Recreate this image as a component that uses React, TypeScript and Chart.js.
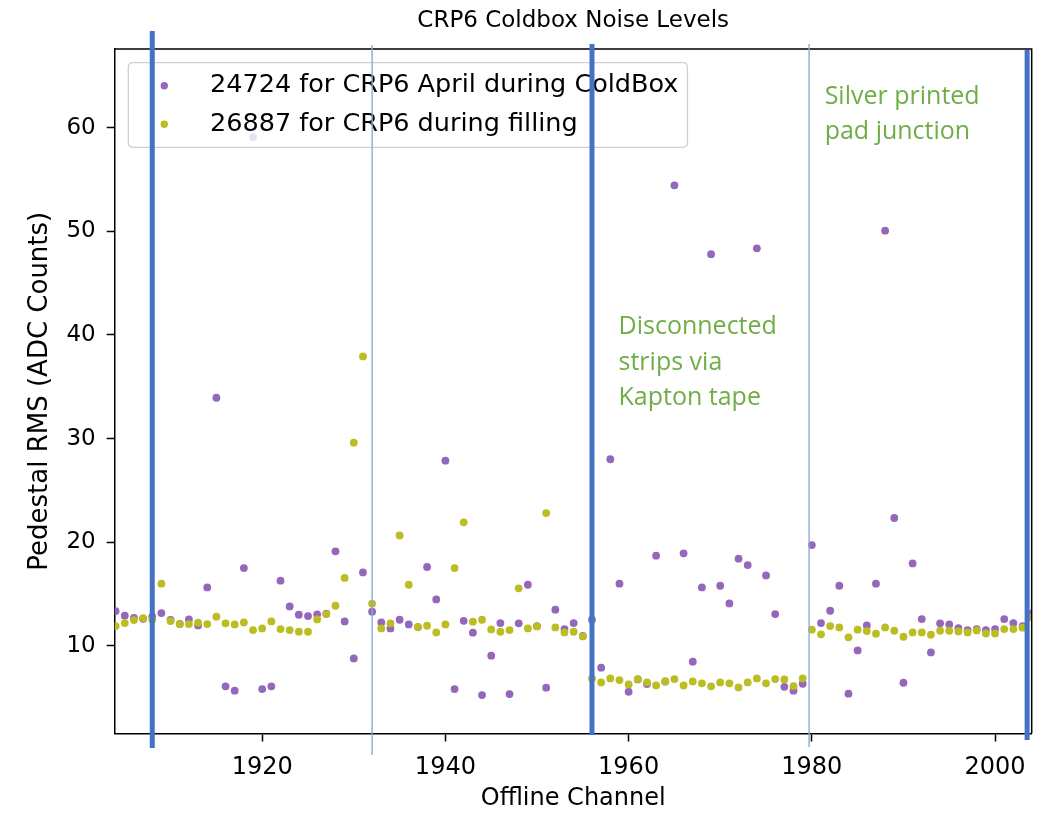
import React, { useEffect, useRef } from 'react';
import { Chart, registerables } from 'chart.js';

Chart.register(...registerables);

// ---------- data ----------
const channels = [
  1904, 1905, 1906, 1907, 1908, 1909, 1910, 1911, 1912, 1913,
  1914, 1915, 1916, 1917, 1918, 1919, 1920, 1921, 1922, 1923,
  1924, 1925, 1926, 1927, 1928, 1929, 1930, 1931, 1932, 1933,
  1934, 1935, 1936, 1937, 1938, 1939, 1940, 1941, 1942, 1943,
  1944, 1945, 1946, 1947, 1948, 1949, 1950, 1951, 1952, 1953,
  1954, 1955, 1956, 1957, 1958, 1959, 1960, 1961, 1962, 1963,
  1964, 1965, 1966, 1967, 1968, 1969, 1970, 1971, 1972, 1973,
  1974, 1975, 1976, 1977, 1978, 1979, 1980, 1981, 1982, 1983,
  1984, 1985, 1986, 1987, 1988, 1989, 1990, 1991, 1992, 1993,
  1994, 1995, 1996, 1997, 1998, 1999, 2000, 2001, 2002, 2003,
  2004,
];

const run24724 = [
  13.35, 12.9, 12.7, 12.6, 12.8, 13.15, 12.5, 12.1, 12.54, 11.96,
  15.63, 33.94, 6.08, 5.66, 17.5, 59.1, 5.82, 6.08, 16.28, 13.8,
  12.99, 12.86, 13.03, 13.1, 19.11, 12.35, 8.78, 17.08, 13.28, 12.25,
  11.67, 12.51, 12.06, 11.8, 17.6, 14.47, 27.86, 5.82, 12.41, 11.26,
  5.24, 9.04, 12.19, 5.34, 12.16, 15.89, 11.9, 5.95, 13.48, 11.61,
  12.19, 10.95, 12.51, 7.88, 28.0, 15.99, 5.56, 6.75, 6.3, 18.69,
  6.55, 54.44, 18.92, 8.46, 15.63, 47.8, 15.79, 14.09, 18.4, 17.79,
  48.36, 16.79, 13.06, 6.04, 5.66, 6.33, 19.72, 12.19, 13.38, 15.79,
  5.37, 9.55, 11.96, 15.99, 50.06, 22.33, 6.43, 17.95, 12.57, 9.36,
  12.16, 12.06, 11.71, 11.51, 11.61, 11.51, 11.61, 12.57, 12.19, 11.9,
  13.12,
];

const run26887 = [
  11.9, 12.19, 12.48, 12.67, 12.51, 15.99, 12.38, 12.09, 12.09, 12.22,
  12.09, 12.8, 12.16, 12.06, 12.25, 11.51, 11.67, 12.35, 11.61, 11.51,
  11.35, 11.35, 12.54, 13.06, 13.86, 16.55, 29.6, 37.93, 14.06, 11.67,
  12.16, 20.65, 15.89, 11.8, 11.93, 11.29, 12.06, 17.5, 21.91, 12.32,
  12.51, 11.58, 11.35, 11.51, 15.54, 11.67, 11.87, 22.81, 11.77, 11.29,
  11.35, 10.9, 6.85, 6.46, 6.85, 6.69, 6.27, 6.78, 6.46, 6.17,
  6.56, 6.78, 6.17, 6.56, 6.37, 6.08, 6.46, 6.37, 5.98, 6.46,
  6.85, 6.37, 6.78, 6.75, 6.11, 6.85, 11.55, 11.1, 11.9, 11.77,
  10.81, 11.55, 11.42, 11.16, 11.77, 11.45, 10.87, 11.29, 11.29, 11.06,
  11.45, 11.45, 11.38, 11.29, 11.48, 11.19, 11.19, 11.61, 11.61, 11.74,
  12.74,
];

const seriesLabels = ['24724 for CRP6 April during ColdBox', '26887 for CRP6 during filling'];
const seriesColors = ['#9467bd', '#bcbd22'];
const chartTitle = 'CRP6 Coldbox Noise Levels';

const xTicks = [1920, 1940, 1960, 1980, 2000];
const yTicks = [10, 20, 30, 40, 50, 60];

// annotation dividers (channel positions)
const dividerChannels = [1908, 1932, 1956, 1979.7, 2003.5];
const dividerHeavy = [true, false, true, false, true];
const dividerTopOffset = [-18, -4, -5, -5, 1];
const dividerBottomOffset = [14.5, 21.5, 1.5, 13.5, 6.5];

const noteKapton = ['Disconnected', 'strips via', 'Kapton tape'];
const noteSilver = ['Silver printed', 'pad junction'];

const FONT = "'DejaVu Sans', sans-serif";

const overlayPlugin = {
  id: 'overlay',
  afterDraw(chart: any) {
    const { ctx, chartArea: ca, scales } = chart;
    const xs = scales.x;
    ctx.save();

    // title, centred over the plot area
    ctx.fillStyle = '#000';
    ctx.font = `23px ${FONT}`;
    ctx.textAlign = 'center';
    ctx.textBaseline = 'middle';
    ctx.fillText(chartTitle, (ca.left + ca.right) / 2, ca.top - 28);

    // top/right spines
    ctx.strokeStyle = '#000';
    ctx.lineWidth = 1.5;
    ctx.beginPath();
    ctx.moveTo(ca.left, ca.top);
    ctx.lineTo(ca.right, ca.top);
    ctx.lineTo(ca.right, ca.bottom);
    ctx.stroke();

    // legend
    const lx = ca.left + 13.6;
    const ly = ca.top + 13.7;
    ctx.font = `25.5px ${FONT}`;
    const tw = Math.max(...seriesLabels.map((s) => ctx.measureText(s).width));
    const textX = lx + 81.7;
    const lw = textX + tw + 9 - lx;
    const lh = 84.6;
    const r = 5;
    ctx.beginPath();
    ctx.moveTo(lx + r, ly);
    ctx.lineTo(lx + lw - r, ly);
    ctx.quadraticCurveTo(lx + lw, ly, lx + lw, ly + r);
    ctx.lineTo(lx + lw, ly + lh - r);
    ctx.quadraticCurveTo(lx + lw, ly + lh, lx + lw - r, ly + lh);
    ctx.lineTo(lx + r, ly + lh);
    ctx.quadraticCurveTo(lx, ly + lh, lx, ly + lh - r);
    ctx.lineTo(lx, ly + r);
    ctx.quadraticCurveTo(lx, ly, lx + r, ly);
    ctx.closePath();
    ctx.fillStyle = 'rgba(255,255,255,0.8)';
    ctx.fill();
    ctx.strokeStyle = '#d0d0d0';
    ctx.lineWidth = 1.3;
    ctx.stroke();
    const rows = [ly + 23, ly + 61.5];
    seriesLabels.forEach((label, i) => {
      ctx.beginPath();
      ctx.arc(lx + 36, rows[i], 3.7, 0, Math.PI * 2);
      ctx.fillStyle = seriesColors[i];
      ctx.fill();
      ctx.fillStyle = '#000';
      ctx.textAlign = 'left';
      ctx.textBaseline = 'middle';
      ctx.fillText(label, textX, rows[i]);
    });

    // dividers
    dividerChannels.forEach((ch, i) => {
      const x = xs.getPixelForValue(ch);
      ctx.beginPath();
      ctx.moveTo(x, ca.top + dividerTopOffset[i]);
      ctx.lineTo(x, ca.bottom + dividerBottomOffset[i]);
      ctx.strokeStyle = dividerHeavy[i] ? '#4472c4' : '#8eaadb';
      ctx.lineWidth = dividerHeavy[i] ? 5 : 1.4;
      ctx.stroke();
    });

    // notes
    ctx.fillStyle = '#70ad47';
    ctx.font = `25px 'Open Sans', sans-serif`;
    ctx.textAlign = 'left';
    ctx.textBaseline = 'alphabetic';
    const kx = xs.getPixelForValue(1958.9);
    noteKapton.forEach((t, i) => ctx.fillText(t, kx, ca.top + 285 + i * 35.5));
    const sx = xs.getPixelForValue(1981.4);
    noteSilver.forEach((t, i) => ctx.fillText(t, sx, ca.top + 55 + i * 35));

    ctx.restore();
  },
};

export default function App() {
  const canvasRef = useRef<HTMLCanvasElement | null>(null);

  useEffect(() => {
    if (!canvasRef.current) return;
    const chart = new Chart(canvasRef.current, {
      type: 'scatter',
      data: {
        datasets: [
          {
            label: seriesLabels[0],
            data: channels.map((c, i) => ({ x: c, y: run24724[i] })),
            backgroundColor: seriesColors[0],
            borderWidth: 0,
            pointRadius: 3.9,
            order: 2,
          },
          {
            label: seriesLabels[1],
            data: channels.map((c, i) => ({ x: c, y: run26887[i] })),
            backgroundColor: seriesColors[1],
            borderWidth: 0,
            pointRadius: 3.9,
            order: 1,
          },
        ],
      },
      options: {
        animation: false,
        responsive: false,
        devicePixelRatio: 1,
        layout: { padding: { left: 0, right: 16.3, top: 49, bottom: 0 } },
        plugins: {
          legend: { display: false },
          tooltip: { enabled: false },
          title: { display: false },
        },
        scales: {
          x: {
            type: 'linear',
            min: 1903.9,
            max: 2004,
            afterBuildTicks: (s: any) => {
              s.ticks = xTicks.map((v) => ({ value: v }));
            },
            afterFit: (s: any) => {
              s.height = 79.5;
            },
            grid: { drawOnChartArea: false, drawTicks: true, tickLength: 8, tickColor: '#000', tickWidth: 1.5 },
            border: { display: true, color: '#000', width: 1.5 },
            ticks: {
              color: '#000',
              font: { family: FONT, size: 24 },
              padding: 12,
              maxRotation: 0,
              autoSkip: false,
              callback: (v: any) => String(v),
            },
            title: {
              display: true,
              text: 'Offline Channel',
              color: '#000',
              font: { family: FONT, size: 24 },
              padding: { top: 0, bottom: 0 },
            },
          },
          y: {
            type: 'linear',
            min: 1.53,
            max: 67.6,
            afterBuildTicks: (s: any) => {
              s.ticks = yTicks.map((v) => ({ value: v }));
            },
            afterFit: (s: any) => {
              s.width = 114.7;
            },
            grid: { drawOnChartArea: false, drawTicks: true, tickLength: 8, tickColor: '#000', tickWidth: 1.5 },
            border: { display: true, color: '#000', width: 1.5 },
            ticks: {
              color: '#000',
              font: { family: FONT, size: 23 },
              padding: 11,
              autoSkip: false,
              callback: (v: any) => String(v),
            },
            title: {
              display: true,
              text: 'Pedestal RMS (ADC Counts)',
              color: '#000',
              font: { family: FONT, size: 26 },
              padding: { top: 25, bottom: 0 },
            },
          },
        },
      },
      plugins: [overlayPlugin],
    });
    return () => chart.destroy();
  }, []);

  return (
    <div style={{ position: 'absolute', left: 0, top: 0, width: 1048, height: 813, background: '#fff' }}>
      <canvas ref={canvasRef} width={1048} height={813} style={{ display: 'block' }} />
    </div>
  );
}
